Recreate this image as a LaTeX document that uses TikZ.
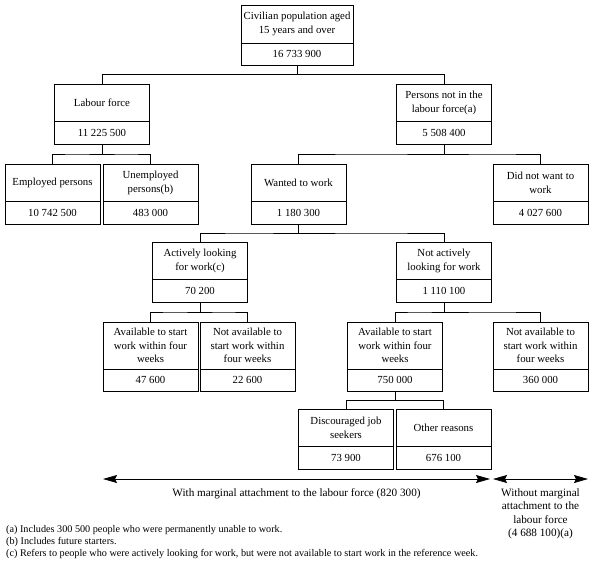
\documentclass[tikz,border=0pt]{standalone}
\usepackage{fontspec}
\setmainfont{Liberation Serif}
\usetikzlibrary{arrows.meta,calc}
\newcommand{\boxfont}{\fontsize{10.8}{13.6}\selectfont}
\newcommand{\notefont}{\fontsize{10.2}{11.5}\selectfont}
\tikzset{
  labbox/.style={draw, line width=0.8pt, outer sep=0pt, inner sep=1pt, minimum width=95pt, minimum height=37.5pt, anchor=north, align=center, font=\boxfont},
  numbox/.style={labbox, minimum height=22.5pt},
  elbow/.style={line width=0.8pt, to path={(\tikztostart) |- ($(\tikztostart)!0.5!(\tikztotarget)$) -| (\tikztotarget)}},
  spanarrow/.style={line width=0.8pt, {Stealth[length=14pt,width=8pt,inset=2pt]}-{Stealth[length=14pt,width=8pt,inset=2pt]}},
  fnote/.style={anchor=west, inner sep=0pt, font=\notefont}
}
\begin{document}
\begin{tikzpicture}[x=1pt,y=-1pt]

    \useasboundingbox (0,0) rectangle (595,568);

    \node[labbox, minimum width=112pt, minimum height=38pt] (root) at (297,5) {Civilian population aged\\15 years and over};
    \node[numbox, minimum width=112pt] (rootn) at (root.south) {16 733 900};

    \node[labbox] (lf) at (102,84) {Labour force};          \node[numbox] (lfn) at (lf.south) {11 225 500};
    \node[labbox] (nilf) at (444,84) {Persons not in the\\labour force(a)};   \node[numbox] (nilfn) at (nilf.south) {5 508 400};

    \node[labbox] (emp) at (52.5,164) {Employed persons};    \node[numbox] (empn) at (emp.south) {10 742 500};
    \node[labbox] (unemp) at (150.5,164) {Unemployed\\persons(b)};   \node[numbox] (unempn) at (unemp.south) {483 000};
    \node[labbox] (want) at (298.5,164) {Wanted to work};    \node[numbox] (wantn) at (want.south) {1 180 300};
    \node[labbox] (nowant) at (540.5,164) {Did not want to\\work};   \node[numbox] (nowantn) at (nowant.south) {4 027 600};

    \node[labbox] (actv) at (200,242) {Actively looking\\for work(c)};   \node[numbox] (actvn) at (actv.south) {70 200};
    \node[labbox] (nactv) at (444,242) {Not actively\\looking for work};   \node[numbox] (nactvn) at (nactv.south) {1 110 100};

    \node[labbox, minimum height=47pt] (av) at (150.5,322) {Available to start\\work within four\\weeks};   \node[numbox] (avn) at (av.south) {47 600};
    \node[labbox, minimum height=47pt] (nav) at (247.5,322) {Not available to\\start work within\\four weeks};   \node[numbox] (navn) at (nav.south) {22 600};
    \node[labbox, minimum height=47pt] (avb) at (395,322) {Available to start\\work within four\\weeks};   \node[numbox] (avbn) at (avb.south) {750 000};
    \node[labbox, minimum height=47pt] (navb) at (540.5,322) {Not available to\\start work within\\four weeks};   \node[numbox] (navbn) at (navb.south) {360 000};

    \node[labbox] (disc) at (346,409) {Discouraged job\\seekers};   \node[numbox] (discn) at (disc.south) {73 900};
    \node[labbox] (oth) at (443.5,409) {Other reasons};   \node[numbox] (othn) at (oth.south) {676 100};

    \draw[elbow] (rootn.south) to (lf.north);
    \draw[elbow] (rootn.south) to (nilf.north);
    \draw[elbow] (lfn.south) to (emp.north);
    \draw[elbow] (lfn.south) to (unemp.north);
    \draw[elbow] (nilfn.south) to (want.north);
    \draw[elbow] (nilfn.south) to (nowant.north);
    \draw[elbow] (wantn.south) to (actv.north);
    \draw[elbow] (wantn.south) to (nactv.north);
    \draw[elbow] (actvn.south) to (av.north);
    \draw[elbow] (actvn.south) to (nav.north);
    \draw[elbow] (nactvn.south) to (avb.north);
    \draw[elbow] (nactvn.south) to (navb.north);
    \draw[elbow] (avbn.south) to (disc.north);
    \draw[elbow] (avbn.south) to (oth.north);

    \coordinate (wl) at (103,479);   \coordinate (wr) at (490,479);
    \coordinate (ol) at (493,479);   \coordinate (or) at (588,479);
    \draw[spanarrow] (wl) -- (wr);
    \draw[spanarrow] (ol) -- (or);

    \node[font=\fontsize{11.2}{13.5}\selectfont] (with) at (296.5,494) {With marginal attachment to the labour force (820 300)};
    \node[font=\fontsize{11.2}{13.5}\selectfont, align=center] (without) at (540.5,514) {Without marginal\\attachment to the\\labour force\\(4 688 100)(a)};

    \node[fnote] (fa) at (6,530) {(a) Includes 300 500 people who were permanently unable to work.};
    \node[fnote] (fb) at (6,542) {(b) Includes future starters.};
    \node[fnote] (fc) at (6,554) {(c) Refers to people who were actively looking for work, but were not available to start work in the reference week.};

\end{tikzpicture}
\end{document}
